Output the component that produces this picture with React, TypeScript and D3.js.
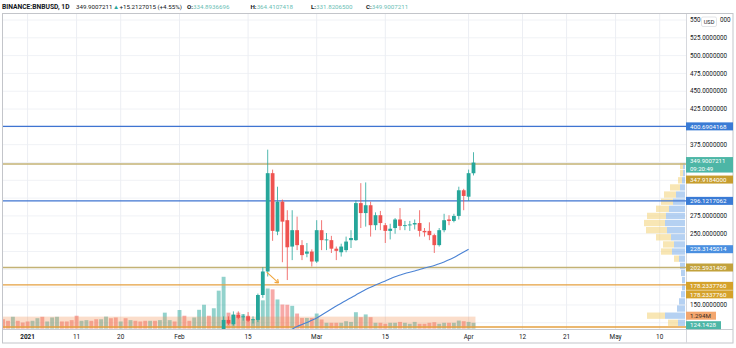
import React from 'react';
import * as d3 from 'd3';

const W = 736;
const H = 348;

// ---------- data ----------
const volumeStart = '2020-12-27';
const volumes = [
  2.1, 1.75, 2.66, 1.75, 1.36, 1.6, 1.75, 2.34, 2.66, 1.6, 2.5, 2.66, 1.6, 1.6, 1.9,
  2.9, 1.75, 1.9, 1.75, 2.1, 2.1, 2.7, 2.34, 2.5, 1.6,
  2.34, 1.9, 1.75, 1.6, 1.75, 1.75, 1.75, 1.9, 3.6, 1.9,
  1.6, 4.2, 2.9, 1.75, 2.5, 4.25, 5.4, 2.9, 4.6, 8.6,
  11.75, 3.6, 3.25, 3.6, 3.25, 2.9, 2.0, 3.6, 6.4, 9.1,
  8.9, 6.6, 5.45, 5.4, 5.15, 3.4, 2.4, 2.4, 2.4, 3.4,
  2.05, 1.3, 1.3, 1.3, 1.3, 1.66, 1.5, 3.7, 2.57, 3.2,
  2.57, 1.3, 1.3, 1.07, 1.3, 1.3, 1.5, 1.3, 1.07, 1.5,
  1.07, 1.07, 1.3, 1.43, 1.07, 1.3, 1.3, 1.3, 1.8, 1.66,
  1.5, 1.294,
];
// direction of the volume bars for days before the first visible candle
const volumeUpEarly = [
  0, 0, 1, 0, 0, 0, 1, 1, 0, 1, 1, 1, 0, 0, 0, 0, 1, 1, 0, 0, 1, 1, 0, 0, 1, 0, 1, 0, 0, 0,
  1, 0, 1, 1, 1, 0, 1, 0, 0, 1, 1, 1, 0, 1, 1,
];

const candleStart = '2021-02-10';
const opens = [
  112, 129, 123, 136, 133, 134, 129, 129, 164, 197,
  335, 253, 295, 269, 232, 255, 234, 222, 225, 211,
  255, 241, 241, 229, 224, 227, 241, 241, 293, 279,
  290, 262, 276, 262, 254, 258, 270, 261, 262, 263,
  265, 254, 254, 248, 234, 255, 270, 268, 275, 311,
  302, 334.8936696,
];
const highs = [
  134, 134, 141, 141, 137, 140, 134, 166, 203, 368,
  340, 316, 298, 283, 283, 274, 241, 237, 228, 269,
  269, 251, 247, 232, 236, 246, 255, 297, 321, 322,
  295, 280, 282, 265, 264, 272, 286, 268, 268, 270,
  283, 258, 266, 250, 258, 278, 276, 278, 316, 313,
  340, 364.4107418,
];
const lows = [
  108, 122, 121, 130, 128, 126, 124, 126, 160, 190,
  240, 248, 210, 185, 213, 227, 213, 217, 204, 209,
  227, 227, 223, 213, 218, 224, 230, 240, 258, 260,
  246, 255, 255, 237, 242, 250, 255, 255, 254, 256,
  246, 246, 241, 223, 232, 252, 262, 266, 270, 283,
  296, 331.82065,
];
const closes = [
  129, 124, 136, 132, 134, 128, 130, 164, 197, 335,
  254, 295, 267, 231, 255, 234, 220, 225, 211, 255,
  241, 242, 229, 226, 232, 239, 244, 293, 279, 290,
  262, 276, 265, 254, 257, 270, 261, 262, 263, 265,
  254, 252, 248, 234, 255, 269, 268, 275, 311, 303,
  335, 349.9007211,
];

const maStart = '2021-02-24';
const maValues = [
  116, 119.8, 122.6, 125.4, 128.6, 131.8, 136, 140.2, 144.4, 148.6,
  152.5, 156.3, 160.2, 164, 168, 171.8, 175, 178.1, 181, 183.7,
  186.7, 189.7, 192, 194.2, 196, 197.7, 199.8, 201.9, 203.6, 205.4,
  207.9, 210.4, 213.5, 216.7, 220.5, 224.4, 228.3145014,
];

const blueLevels = [400.6904168, 296.1217062];
const oliveLevels = [347.9184, 202.5931409];
const orangeLevels = [178.233776, 119.1];

const profileBins = [120, 130, 140, 150, 160, 170, 180, 190, 200, 210, 220, 230, 240, 250, 260, 270, 280, 290, 300, 310, 320, 330, 340];
const profileBlue = [7, 20, 8, 6, 4, 3, 3, 4, 5, 6, 13, 11, 14, 18, 20, 19, 16, 12, 9, 5, 3, 2, 2];
const profileYellow = [10, 18, 0, 0, 0, 0, 0, 0, 0, 5, 11, 11, 15, 21, 21, 19, 13, 12, 12, 10, 4, 3, 3];

const priceTicks = [125, 150, 175, 200, 225, 250, 275, 300, 325, 350, 375, 400, 425, 450, 475, 500, 525, 550];
const timeTickDates = ['2021-01-01', '2021-01-11', '2021-01-20', '2021-02-01', '2021-02-15', '2021-03-01', '2021-03-15', '2021-04-01', '2021-04-12', '2021-04-21', '2021-05-01', '2021-05-10'];
const timeTickLabels = ['2021', '11', '20', 'Feb', '15', 'Mar', '15', 'Apr', '12', '21', 'May', '10'];
const timeTickBold = ['2021'];

const arrowFrom = { date: '2021-02-18T19:00:00Z', price: 196 };
const arrowTo = { date: '2021-02-21T05:00:00Z', price: 181 };

const lastPrice = 349.9007211;
const countdown = '09:20:49';
const volAxisLabel = '124.1428';
const volAxisValue = 124.1428;

// ---------- layout ----------
const plotL = 3;
const plotR = 686;
const plotT = 14;
const plotB = 329;
const frameR = 733;
const frameB = 343;

const FONT = 'Roboto, "Liberation Sans", Arial, sans-serif';
const UP = '#26a69a';
const DOWN = '#ef5350';

const parse = (s: string) => new Date(s.length > 10 ? s : s + 'T00:00:00Z');

export default function App() {
  const x = d3.scaleUtc().domain([parse('2021-01-01'), parse('2021-04-02')]).range([27.6, 473.5]);
  const y = d3.scaleLinear().domain([100, 550]).range([340.6, 20]);
  const yV = d3.scaleLinear().domain([0, 10]).range([328.5, 284.5]);
  const xProf = d3.scaleLinear().domain([0, 50]).range([0, 50]);

  const vStart = parse(volumeStart);
  const cStart = parse(candleStart);
  const candleOffset = d3.utcDay.count(vStart, cStart);

  const candles = opens.map((o, i) => ({
    date: d3.utcDay.offset(cStart, i),
    o, h: highs[i], l: lows[i], c: closes[i],
  }));

  const vols = volumes.map((v, i) => {
    const up = i < candleOffset ? volumeUpEarly[i] === 1 : closes[i - candleOffset] >= opens[i - candleOffset];
    return { date: d3.utcDay.offset(vStart, i), v, up };
  });

  const maStartD = parse(maStart);
  const maPts = maValues.map((v, i) => ({ date: d3.utcDay.offset(maStartD, i), v }));
  const maLine = d3.line<{ date: Date; v: number }>().x((d) => x(d.date)).y((d) => y(d.v)).curve(d3.curveMonotoneX);

  const bodyW = 3.8;
  const volW = 3.9;

  // right-side labels
  const lbl = (text: string, cy: number, bg: string, fg = '#ffffff', w = 47) => ({ text, cy, bg, fg, w });
  const tealY = y(volAxisValue) + 1.8;
  const volLblY = Math.min(yV(volumes[volumes.length - 1]), tealY - 9.5);
  const orangeY = y(orangeLevels[0]) + 1;
  const axisLabels = [
    lbl('400.6904168', y(blueLevels[0]), '#3a7bd5'),
    lbl('347.9184000', y(lastPrice) + 17, '#c69d2e'),
    lbl('296.1217062', y(blueLevels[1]), '#3a7bd5'),
    lbl('228.3145014', y(maValues[maValues.length - 1]), '#4a8fe0'),
    lbl('202.5931409', y(oliveLevels[1]), '#c2a23c'),
    lbl('178.2337760', orangeY, '#d5a22a'),
    lbl('178.2337760', orangeY + 8.5, '#d5a22a'),
    lbl('1.294M', volLblY, '#f3a66e', '#3a2a20', 30),
    lbl(volAxisLabel, tealY, '#4db6a6', '#ffffff', 35),
  ];
  const lastBoxTop = y(lastPrice) - 5.5;
  const lastBoxBot = y(lastPrice) + 10;
  // tick labels hidden behind value labels are not drawn (as on the original axis)
  const visibleTicks = priceTicks.filter((p) => {
    const ty = y(p);
    if (ty > lastBoxTop - 4 && ty < lastBoxBot + 4) return false;
    return !axisLabels.some((l) => Math.abs(l.cy - ty) < 8);
  });

  const rowH = Math.abs(y(10) - y(0));

  const fa = x(parse(arrowFrom.date));
  const fb = y(arrowFrom.price);
  const ta = x(parse(arrowTo.date));
  const tb = y(arrowTo.price);
  const ang = Math.atan2(tb - fb, ta - fa);
  const head = 4;

  const topTick = priceTicks[priceTicks.length - 1];
  const topTickText = topTick.toFixed(7);

  return (
    <svg width={W} height={H} style={{ position: 'absolute', left: 0, top: 0, background: '#fff' }} fontFamily={FONT}>
      <defs>
        <clipPath id="plot">
          <rect x={plotL} y={plotT} width={plotR - plotL} height={plotB - plotT} />
        </clipPath>
      </defs>
      <rect x={0} y={0} width={W} height={H} fill="#ffffff" />

      {/* header */}
      <text x={2} y={9} fontSize={6.2} fill="#131722">
        <tspan fontWeight={700} fontSize={6.7}>BINANCE:BNBUSD, 1D</tspan>
        <tspan x={76}>349.9007211</tspan>
        <tspan x={113} fill={UP}>▲</tspan>
        <tspan x={119.5}>+15.2127015 (+4.55%)</tspan>
        <tspan x={187} fontWeight={700}>O:</tspan>
        <tspan fill="#6cc0b5">334.8936696</tspan>
        <tspan x={250.5} fontWeight={700}>H:</tspan>
        <tspan fill="#6cc0b5">364.4107418</tspan>
        <tspan x={311} fontWeight={700}>L:</tspan>
        <tspan fill="#6cc0b5">331.8206500</tspan>
        <tspan x={366} fontWeight={700}>C:</tspan>
        <tspan fill="#6cc0b5">349.9007211</tspan>
      </text>

      <g clipPath="url(#plot)">
        {/* grid */}
        {priceTicks.map((p) => (
          <line key={'gh' + p} x1={plotL} x2={plotR} y1={y(p)} y2={y(p)} stroke="#f0f2f6" strokeWidth={1} />
        ))}
        {timeTickDates.map((d) => (
          <line key={'gv' + d} x1={x(parse(d))} x2={x(parse(d))} y1={plotT} y2={plotB} stroke="#eceef3" strokeWidth={1} />
        ))}

        {/* volume */}
        {vols.map((d, i) => (
          <rect key={'v' + i} x={x(d.date) - volW / 2} y={yV(d.v)} width={volW} height={yV(0) - yV(d.v)}
            fill={d.up ? 'rgba(38,166,154,0.5)' : 'rgba(239,83,80,0.5)'} />
        ))}
        {/* shaded band over volumes */}
        <rect x={plotL} y={yV(2.7)} width={x(d3.utcDay.offset(vStart, volumes.length - 1)) + volW / 2 - plotL}
          height={yV(0) - yV(2.7)} fill="rgba(242,150,90,0.32)" />

        {/* volume profile */}
        {profileBins.map((b, i) => {
          const top = y(b + 10) + 0.4;
          const hh = rowH - 0.8;
          const bw = xProf(profileBlue[i]);
          const yw = xProf(profileYellow[i]);
          return (
            <g key={'pf' + b}>
              <rect x={plotR - 1 - bw} y={top} width={bw} height={hh} fill="rgba(120,172,232,0.55)" />
              <rect x={plotR - 1 - bw - yw} y={top} width={yw} height={hh} fill="rgba(244,214,130,0.6)" />
            </g>
          );
        })}

        {/* horizontal levels */}
        {blueLevels.map((p) => (
          <line key={'bl' + p} x1={plotL} x2={plotR} y1={y(p)} y2={y(p)} stroke="#3f74d1" strokeWidth={1.3} />
        ))}
        {oliveLevels.map((p) => (
          <line key={'ol' + p} x1={plotL} x2={plotR} y1={y(p)} y2={y(p)} stroke="#c3b275" strokeWidth={1.6} />
        ))}
        {orangeLevels.map((p) => (
          <line key={'or' + p} x1={plotL} x2={plotR} y1={y(p)} y2={y(p)} stroke="#e5a040" strokeWidth={1.3} />
        ))}

        {/* moving average */}
        <path d={maLine(maPts) || ''} fill="none" stroke="#4a82d4" strokeWidth={1.1} />

        {/* candles */}
        {candles.map((c, i) => {
          const cx = x(c.date);
          const col = c.c >= c.o ? UP : DOWN;
          const top = y(Math.max(c.o, c.c));
          const bot = y(Math.min(c.o, c.c));
          return (
            <g key={'c' + i}>
              <line x1={cx} x2={cx} y1={y(c.h)} y2={y(c.l)} stroke={col} strokeWidth={0.8} />
              <rect x={cx - bodyW / 2} y={top} width={bodyW} height={Math.max(bot - top, 0.9)} fill={col} />
            </g>
          );
        })}

        {/* arrow annotation */}
        <line x1={fa} y1={fb} x2={ta} y2={tb} stroke="#f0a43a" strokeWidth={1.1} />
        <line x1={ta} y1={tb} x2={ta - head * Math.cos(ang - 0.6)} y2={tb - head * Math.sin(ang - 0.6)} stroke="#f0a43a" strokeWidth={1.1} />
        <line x1={ta} y1={tb} x2={ta - head * Math.cos(ang + 0.6)} y2={tb - head * Math.sin(ang + 0.6)} stroke="#f0a43a" strokeWidth={1.1} />
      </g>

      {/* frame */}
      <rect x={2.5} y={13.5} width={frameR - 2.5} height={frameB - 13.5} fill="none" stroke="#c3c5ca" strokeWidth={1} />
      <line x1={plotR + 0.5} x2={plotR + 0.5} y1={plotT} y2={frameB} stroke="#d6d8dd" strokeWidth={1} />
      <line x1={plotL} x2={frameR} y1={plotB + 0.5} y2={plotB + 0.5} stroke="#c9cbd0" strokeWidth={1} />

      {/* price axis ticks */}
      {visibleTicks.filter((p) => p !== topTick).map((p) => (
        <text key={'pt' + p} x={690} y={y(p)} dy="0.35em" fontSize={6.3} fill="#131722">
          {p.toFixed(7)}
        </text>
      ))}
      {/* top tick, partly covered by the USD badge */}
      <text x={690} y={y(topTick)} dy="0.35em" fontSize={6.3} fill="#131722">{topTickText.slice(0, 3)}</text>
      <text x={730.5} y={y(topTick)} dy="0.35em" fontSize={6.3} fill="#131722" textAnchor="end">{topTickText.slice(-3)}</text>
      <rect x={701.5} y={17} width={15} height={9.5} rx={1.5} fill="#ffffff" stroke="#d0d3d9" strokeWidth={0.6} />
      <text x={709} y={22} dy="0.35em" fontSize={5.6} textAnchor="middle" fill="#131722">USD</text>

      {/* last price label */}
      <rect x={plotR} y={lastBoxTop} width={47} height={lastBoxBot - lastBoxTop} fill="#4db6a6" />
      <text x={690} y={y(lastPrice) - 1.6} dy="0.35em" fontSize={6} fill="#ffffff">{lastPrice.toFixed(7)}</text>
      <text x={690} y={y(lastPrice) + 6} dy="0.35em" fontSize={6} fill="#ffffff">{countdown}</text>

      {axisLabels.map((l, i) => (
        <g key={'al' + i}>
          <rect x={plotR} y={l.cy - 4} width={l.w} height={8} fill={l.bg} />
          <text x={690} y={l.cy} dy="0.35em" fontSize={6.2} fill={l.fg}>{l.text}</text>
        </g>
      ))}

      {/* time axis */}
      {timeTickDates.map((d, i) => (
        <text key={'tt' + i} x={x(parse(d))} y={336.5} dy="0.35em" fontSize={6.4} textAnchor="middle"
          fill="#131722" fontWeight={timeTickBold.includes(timeTickLabels[i]) ? 700 : 400}>
          {timeTickLabels[i]}
        </text>
      ))}
    </svg>
  );
}
